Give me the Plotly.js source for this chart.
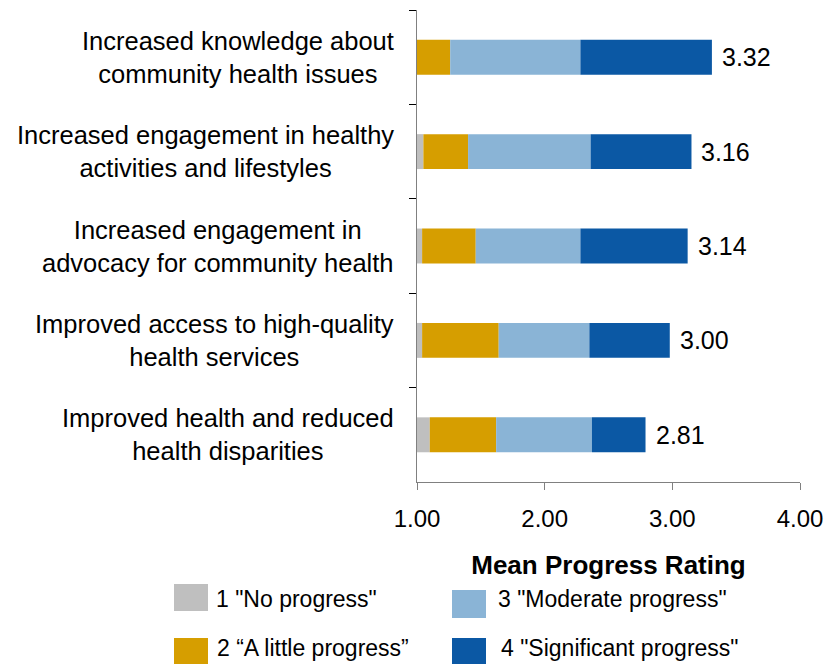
<!DOCTYPE html>
<html><head><meta charset="utf-8">
<script src="https://cdn.plot.ly/plotly-3.0.1.min.js"></script>
<style>html,body{margin:0;padding:0;background:#fff}#chart{width:829px;height:664px}</style>
</head><body><div id="chart"></div>
<script>
// ---- data ----
const categories = [
  "Increased knowledge about<br>community health issues",
  "Increased engagement in healthy<br>activities and lifestyles",
  "Increased engagement in<br>advocacy for community health",
  "Improved access to high-quality<br>health services",
  "Improved health and reduced<br>health disparities"
];
const meanLabels = ["3.32", "3.16", "3.14", "3.00", "2.81"];
// segment widths (rating units) starting at 1.00
const noProgress          = [0.00, 0.05, 0.04, 0.04, 0.10];
const littleProgress      = [0.26, 0.35, 0.42, 0.60, 0.52];
const moderateProgress    = [1.02, 0.96, 0.82, 0.71, 0.75];
const significantProgress = [1.03, 0.79, 0.84, 0.63, 0.42];
const seriesNames = ['1 "No progress"', '2 \u201CA little progress\u201D', '3 "Moderate progress"', '4 "Significant progress"'];
const xTickVals = [1, 2, 3, 4];
const axisStart = 1;
const xTitle = "Mean Progress Rating";

// ---- styles ----
const colors = ["#BFBFBF", "#D69E00", "#8AB4D6", "#0B58A4"];
const FONT = "Liberation Sans, Arial, sans-serif";
const W = 829, H = 664;
const M = {l: 417, r: 29, t: 10, b: 182};
const pw = W - M.l - M.r, ph = H - M.t - M.b;
const px2paperX = px => (px - M.l) / pw;
const px2paperY = py => (H - M.b - py) / ph;

const series = [noProgress, littleProgress, moderateProgress, significantProgress];
let cum = categories.map(() => axisStart);
const traces = series.map((vals, k) => {
  const base = cum.slice();
  cum = cum.map((c, i) => c + vals[i]);
  return {
    type: "bar", orientation: "h",
    y: categories, x: vals, base: base,
    name: seriesNames[k],
    marker: {color: colors[k], line: {width: 0}},
    showlegend: false,
    hoverinfo: "skip"
  };
});
const ends = cum;

const annotations = [];
categories.forEach((c, i) => {
  annotations.push({
    xref: "paper", yref: "y", x: 0, y: c, xanchor: "right", yanchor: "middle",
    xshift: -21, align: "center", showarrow: false, text: c,
    font: {family: FONT, size: 25.5, color: "#000"}
  });
  annotations.push({
    xref: "x", yref: "y", x: ends[i], y: c, xanchor: "left", yanchor: "middle",
    xshift: 8, showarrow: false, text: meanLabels[i],
    font: {family: FONT, size: 25, color: "#000"}
  });
});

// custom legend (2 x 2)
const legendPos = [
  {sq: [174, 208, 584, 611], tx: 214, ty: 598.5},
  {sq: [174, 208, 638, 664], tx: 215, ty: 648},
  {sq: [452, 486, 590, 618], tx: 496, ty: 598.5},
  {sq: [452, 486, 638, 664], tx: 499, ty: 648}
];
const shapes = [];
legendPos.forEach((p, k) => {
  shapes.push({
    type: "rect", xref: "paper", yref: "paper",
    x0: px2paperX(p.sq[0]), x1: px2paperX(p.sq[1]),
    y0: px2paperY(p.sq[3]), y1: px2paperY(p.sq[2]),
    fillcolor: colors[k], line: {width: 0}
  });
  annotations.push({
    xref: "paper", yref: "paper", x: px2paperX(p.tx), y: px2paperY(p.ty),
    xanchor: "left", yanchor: "middle", showarrow: false, text: seriesNames[k],
    font: {family: FONT, size: 23, color: "#000"}
  });
});

const layout = {
  width: W, height: H,
  margin: M,
  paper_bgcolor: "#fff", plot_bgcolor: "#fff",
  barmode: "overlay", bargap: 0.63,
  font: {family: FONT, color: "#000"},
  showlegend: false,
  xaxis: {
    range: [1, 4], tickvals: xTickVals, tickformat: ".2f",
    ticks: "outside", ticklen: 7, tickcolor: "#808080", tickwidth: 1,
    ticklabelstandoff: 8,
    showline: true, linecolor: "#808080", linewidth: 1,
    showgrid: false, zeroline: false,
    tickfont: {family: FONT, size: 24, color: "#000"},
    title: {text: "<b>" + xTitle + "</b>", font: {family: FONT, size: 26, color: "#000"}, standoff: 25},
    automargin: false, fixedrange: true
  },
  yaxis: {
    type: "category", autorange: "reversed",
    showticklabels: false, ticks: "outside", tickson: "boundaries",
    ticklen: 7, tickcolor: "#000", tickwidth: 1,
    showline: true, linecolor: "#808080", linewidth: 1.5,
    showgrid: false, zeroline: false, automargin: false, fixedrange: true
  },
  annotations: annotations,
  shapes: shapes
};

Plotly.newPlot("chart", traces, layout, {displayModeBar: false, staticPlot: true});
</script>
</body></html>
